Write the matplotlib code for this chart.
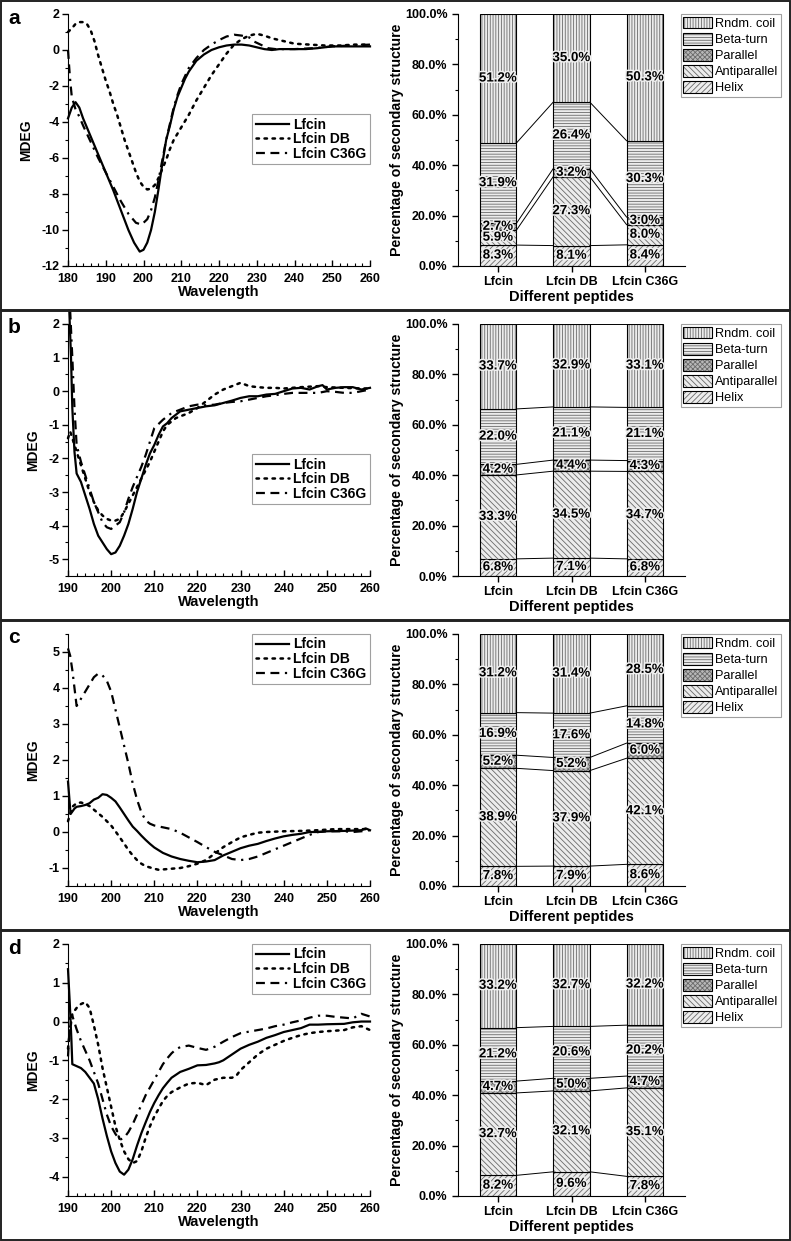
"""
CD spectra of Lfcin, Lfcin DB and Lfcin C36G (left) with the fitted
secondary-structure fractions (right), four conditions a-d.
"""

import matplotlib

matplotlib.use("Agg")
import matplotlib.patheffects as pe
import matplotlib.pyplot as plt
from matplotlib.legend_handler import HandlerTuple
from matplotlib.lines import Line2D
from matplotlib.patches import Patch, Rectangle
from matplotlib.ticker import FuncFormatter, MultipleLocator

# ---------------------------------------------------------------- data
PEPTIDES = ["Lfcin", "Lfcin DB", "Lfcin C36G"]
STRUCTURES = ["Helix", "Antiparallel", "Parallel", "Beta-turn", "Rndm. coil"]

# panel a
A_LFCIN_WL = [180, 181, 182, 183, 184, 186, 188, 190, 192, 194, 196, 197.5, 199, 200, 201, 202, 203, 204, 205,
              206, 207, 208, 209, 210, 211, 212, 214, 216, 218, 220, 222, 224, 226, 228, 230, 232, 234, 236,
              240, 243, 246, 250, 255, 260]
A_LFCIN_MDEG = [-3.8, -3.2, -2.9, -3.2, -3.8, -4.8, -5.8, -6.8, -7.8, -8.9, -10.0, -10.7, -11.2, -11.1, -10.7,
                -10.0, -9.0, -7.7, -6.3, -5.0, -4.2, -3.3, -2.6, -2.1, -1.6, -1.2, -0.6, -0.25, 0.0, 0.15, 0.25,
                0.3, 0.3, 0.25, 0.15, 0.05, 0.0, 0.05, 0.05, 0.05, 0.1, 0.2, 0.2, 0.2]
A_DB_WL = [180, 181, 182, 183, 184, 185, 186, 187, 188, 189, 190, 191, 192, 193, 194, 195, 196, 197, 198, 199,
           200, 201, 202, 203, 204, 205, 206, 207, 208, 210, 212, 214, 216, 218, 220, 222, 224, 226, 228, 230,
           232, 234, 236, 238, 240, 244, 248, 252, 256, 260]
A_DB_MDEG = [1.0, 1.2, 1.45, 1.55, 1.55, 1.45, 1.1, 0.5, -0.3, -1.0, -1.7, -2.3, -3.0, -3.6, -4.3, -5.0, -5.6,
             -6.2, -6.8, -7.3, -7.6, -7.75, -7.7, -7.5, -7.1, -6.6, -6.1, -5.5, -5.0, -4.3, -3.6, -2.8, -2.1,
             -1.4, -0.8, -0.2, 0.3, 0.6, 0.8, 0.9, 0.8, 0.65, 0.55, 0.45, 0.35, 0.3, 0.25, 0.25, 0.3, 0.3]
A_C36G_WL = [180, 180.5, 181, 182, 183, 184, 186, 188, 190, 192, 194, 196, 198, 199.5, 201, 202, 203, 204, 205,
             206, 207, 208, 209, 210, 212, 214, 216, 218, 220, 222, 224, 226, 228, 229, 231, 233, 235, 240, 245,
             250, 255, 260]
A_C36G_MDEG = [0.0, -1.5, -2.6, -3.3, -3.7, -4.2, -5.1, -6.0, -6.8, -7.6, -8.4, -9.1, -9.6, -9.7, -9.4, -8.9,
               -8.2, -7.2, -6.1, -5.0, -4.1, -3.2, -2.5, -1.9, -1.0, -0.45, 0.0, 0.3, 0.55, 0.75, 0.85, 0.8, 0.7,
               0.5, 0.3, 0.1, 0.05, 0.05, 0.1, 0.2, 0.25, 0.3]

# panel b
B_LFCIN_WL = [190.3, 190.7, 191, 191.5, 192, 193, 194, 195, 196, 197, 198, 199, 200, 201, 202, 203, 204, 205,
              206, 207, 208, 209, 210, 211, 212, 213, 214, 215, 216, 218, 220, 222, 224, 226, 228, 230, 232,
              234, 236, 238, 240, 242, 244, 246, 248, 249, 250, 252, 254, 256, 258, 260]
B_LFCIN_MDEG = [2.4, 1.0, -0.5, -1.8, -2.45, -2.7, -3.1, -3.5, -3.95, -4.3, -4.5, -4.7, -4.85, -4.8, -4.6,
                -4.3, -3.95, -3.5, -3.0, -2.6, -2.2, -1.85, -1.6, -1.3, -1.05, -0.95, -0.8, -0.7, -0.6, -0.55,
                -0.5, -0.45, -0.42, -0.35, -0.28, -0.2, -0.15, -0.15, -0.1, -0.08, 0.0, 0.08, 0.1, 0.05, 0.15,
                0.18, 0.05, 0.1, 0.12, 0.12, 0.05, 0.1]
B_DB_WL = [190, 190.5, 191, 192, 193, 194, 195, 196, 197, 198, 199, 200, 201, 202, 203, 204, 205, 206, 207,
           208, 209, 210, 211, 212, 213, 214, 215, 216, 218, 220, 222, 224, 226, 228, 230, 232, 234, 236, 238,
           240, 244, 248, 250, 254, 258, 260]
B_DB_MDEG = [-1.4, -1.2, -1.4, -1.8, -2.2, -2.6, -3.0, -3.3, -3.55, -3.7, -3.8, -3.85, -3.85, -3.8, -3.6,
             -3.35, -3.1, -2.85, -2.6, -2.35, -2.1, -1.8, -1.5, -1.2, -1.0, -0.9, -0.8, -0.75, -0.65, -0.5,
             -0.3, -0.1, 0.05, 0.15, 0.25, 0.15, 0.12, 0.1, 0.1, 0.08, 0.12, 0.15, 0.12, 0.1, 0.08, 0.08]
B_C36G_WL = [190.5, 191, 191.5, 192, 193, 194, 195, 196, 197, 198, 199, 200, 201, 202, 203, 204, 205, 206,
             207, 208, 209, 210, 212, 214, 216, 218, 220, 222, 224, 226, 228, 230, 232, 234, 236, 238, 240, 242,
             244, 246, 248, 250, 252, 254, 256, 258, 260]
B_C36G_MDEG = [2.4, 1.0, -0.5, -1.6, -2.1, -2.5, -2.9, -3.3, -3.6, -3.9, -4.05, -4.1, -4.0, -3.9, -3.6, -3.2,
               -2.85, -2.55, -2.25, -1.9, -1.5, -1.1, -0.85, -0.65, -0.55, -0.45, -0.4, -0.42, -0.4, -0.35,
               -0.32, -0.3, -0.25, -0.2, -0.15, -0.12, -0.08, -0.05, -0.05, -0.05, -0.05, 0.0, -0.02, -0.05,
               -0.05, 0.0, 0.05]

# panel c
C_LFCIN_WL = [190, 190.6, 191.5, 192, 193, 194, 195, 196, 197, 198, 199, 200, 201, 202, 203, 204, 205, 206,
              207, 208, 209, 210, 212, 214, 216, 218, 220, 222, 224, 226, 228, 230, 232, 234, 236, 238, 240,
              242, 244, 246, 248, 250, 254, 258, 259, 260]
C_LFCIN_MDEG = [1.4, 0.5, 0.65, 0.7, 0.72, 0.75, 0.8, 0.9, 0.95, 1.05, 1.03, 0.95, 0.85, 0.68, 0.5, 0.32, 0.15,
                0.03, -0.1, -0.22, -0.33, -0.43, -0.58, -0.68, -0.75, -0.8, -0.84, -0.82, -0.78, -0.65, -0.55,
                -0.45, -0.38, -0.33, -0.25, -0.18, -0.12, -0.08, -0.05, 0.0, 0.0, 0.02, 0.03, 0.05, 0.1, 0.05]
C_DB_WL = [190, 191, 192, 193, 194, 195, 196, 197, 198, 199, 200, 201, 202, 203, 204, 205, 206, 207, 208, 210,
           211, 212, 214, 216, 218, 220, 222, 224, 226, 228, 230, 232, 234, 236, 240, 244, 248, 252, 256, 260]
C_DB_MDEG = [0.3, 0.7, 0.8, 0.82, 0.78, 0.72, 0.62, 0.52, 0.42, 0.3, 0.18, 0.02, -0.15, -0.32, -0.5, -0.65,
             -0.78, -0.88, -0.95, -1.02, -1.05, -1.04, -1.02, -1.0, -0.95, -0.88, -0.78, -0.6, -0.42, -0.28,
             -0.15, -0.08, -0.02, 0.0, 0.02, 0.03, 0.05, 0.08, 0.08, 0.08]
C_C36G_WL = [190, 190.5, 191, 191.5, 192, 193, 194, 195, 196, 197, 198, 199, 200, 201, 202, 203, 204, 205, 206,
             207, 208, 209, 210, 212, 214, 216, 218, 220, 222, 224, 226, 228, 230, 232, 234, 236, 238, 240, 242,
             244, 246, 248, 250, 254, 256, 258, 260]
C_C36G_MDEG = [5.1, 4.9, 4.5, 4.0, 3.5, 3.7, 3.9, 4.1, 4.3, 4.4, 4.35, 4.2, 3.9, 3.4, 2.9, 2.4, 1.9, 1.35, 0.9,
               0.55, 0.32, 0.23, 0.18, 0.13, 0.08, -0.02, -0.15, -0.28, -0.42, -0.55, -0.65, -0.75, -0.78,
               -0.75, -0.68, -0.58, -0.48, -0.38, -0.28, -0.18, -0.08, 0.0, 0.02, 0.02, 0.0, 0.02, 0.05]

# panel d
D_LFCIN_WL = [190, 190.4, 190.8, 191, 192, 193, 194, 195, 196, 197, 198, 199, 200, 201, 202, 203, 204, 205,
              206, 207, 208, 209, 210, 211, 212, 213, 214, 216, 218, 220, 222, 224, 225, 226, 228, 230, 232,
              234, 236, 238, 240, 242, 244, 246, 248, 250, 254, 256, 258, 260]
D_LFCIN_MDEG = [1.35, 0.5, -0.5, -1.1, -1.15, -1.2, -1.3, -1.45, -1.6, -2.0, -2.5, -2.95, -3.35, -3.65, -3.87,
                -3.95, -3.82, -3.55, -3.2, -2.88, -2.6, -2.33, -2.1, -1.9, -1.72, -1.58, -1.45, -1.3, -1.22,
                -1.13, -1.12, -1.08, -1.05, -1.0, -0.85, -0.7, -0.6, -0.52, -0.42, -0.35, -0.27, -0.22, -0.17,
                -0.08, -0.08, -0.07, -0.06, -0.02, 0.0, 0.0]
D_DB_WL = [190, 190.5, 191, 192, 193, 194, 195, 196, 197, 198, 199, 200, 201, 202, 203, 204, 205, 206, 207,
           208, 209, 210, 211, 212, 213, 214, 216, 218, 220, 222, 224, 226, 228, 229, 230, 232, 234, 236, 238,
           240, 242, 244, 246, 248, 250, 254, 256, 258, 260]
D_DB_MDEG = [-0.7, -0.2, 0.2, 0.35, 0.45, 0.5, 0.35, -0.1, -0.6, -1.2, -1.7, -2.2, -2.7, -3.05, -3.35, -3.55,
             -3.65, -3.6, -3.35, -3.0, -2.7, -2.45, -2.25, -2.05, -1.92, -1.82, -1.7, -1.6, -1.58, -1.64, -1.5,
             -1.45, -1.45, -1.4, -1.25, -1.05, -0.85, -0.7, -0.6, -0.5, -0.42, -0.35, -0.3, -0.27, -0.25,
             -0.22, -0.15, -0.12, -0.22]
D_C36G_WL = [190, 190.5, 191, 192, 193, 194, 195, 196, 197, 198, 199, 200, 201, 202, 203, 204, 205, 206, 207,
             208, 209, 210, 211, 212, 213, 214, 215, 216, 218, 220, 222, 224, 226, 228, 230, 232, 234, 236, 238,
             240, 242, 244, 246, 248, 250, 252, 254, 256, 258, 260]
D_C36G_MDEG = [-0.9, 0.1, 0.15, -0.2, -0.5, -0.75, -1.0, -1.3, -1.6, -2.0, -2.4, -2.7, -2.9, -3.05, -3.0,
               -2.85, -2.65, -2.4, -2.15, -1.9, -1.7, -1.5, -1.3, -1.1, -0.95, -0.82, -0.72, -0.66, -0.62,
               -0.68, -0.73, -0.65, -0.52, -0.4, -0.3, -0.26, -0.22, -0.18, -0.12, -0.08, -0.02, 0.03, 0.1,
               0.15, 0.15, 0.12, 0.1, 0.08, 0.2, 0.13]

# secondary structure (%), rows follow STRUCTURES, columns follow PEPTIDES
A_SECONDARY = [[8.3, 8.1, 8.4], [5.9, 27.3, 8.0], [2.7, 3.2, 3.0], [31.9, 26.4, 30.3], [51.2, 35.0, 50.3]]
B_SECONDARY = [[6.8, 7.1, 6.8], [33.3, 34.5, 34.7], [4.2, 4.4, 4.3], [22.0, 21.1, 21.1], [33.7, 32.9, 33.1]]
C_SECONDARY = [[7.8, 7.9, 8.6], [38.9, 37.9, 42.1], [5.2, 5.2, 6.0], [16.9, 17.6, 14.8], [31.2, 31.4, 28.5]]
D_SECONDARY = [[8.2, 9.6, 7.8], [32.7, 32.1, 35.1], [4.7, 5.0, 4.7], [21.2, 20.6, 20.2], [33.2, 32.7, 32.2]]

# ---------------------------------------------------------------- style
W, H = 791, 1241
FONT = "Liberation Sans"
HATCHES = ["//////", "\\\\\\\\\\\\", "xxxxxxx", "------", "||||||"]
FACES = ["#ececec", "#ececec", "#b8b8b8", "#ececec", "#ececec"]
HATCH_GRAY = "#6a6a6a"
STYLES = [
    dict(linestyle="-", linewidth=1.6),
    dict(linestyle=(0, (1.0, 2.2)), linewidth=1.8, dash_capstyle="round"),
    dict(linestyle=(0, (4.0, 2.5, 4.0, 2.5, 1.0, 2.5)), linewidth=1.6),
]

plt.rcParams["font.family"] = FONT
plt.rcParams["axes.unicode_minus"] = False
plt.rcParams["hatch.linewidth"] = 0.6


def px_axes(fig, left, top, right, bottom):
    return fig.add_axes([left / W, 1 - bottom / H, (right - left) / W, (bottom - top) / H])


def bold_ticks(ax, size):
    for lab in ax.get_xticklabels() + ax.get_yticklabels():
        lab.set_fontweight("bold")
        lab.set_fontsize(size)


def draw_cd(ax, curves, xlim, ylim, ymajor, legend_loc, legend_anchor):
    handles = []
    for (wl, mdeg), name, st in zip(curves, PEPTIDES, STYLES):
        ax.plot(wl, mdeg, color="black", clip_on=False, **st)
        handles.append(Line2D([], [], color="black", **st))
    ax.set_xlim(*xlim)
    ax.set_ylim(*ylim)
    ax.xaxis.set_major_locator(MultipleLocator(10))
    ax.xaxis.set_minor_locator(MultipleLocator(2))
    ax.yaxis.set_major_locator(MultipleLocator(ymajor))
    ax.yaxis.set_minor_locator(MultipleLocator(ymajor / 2))
    ax.spines["top"].set_visible(False)
    ax.spines["right"].set_visible(False)
    ax.tick_params(axis="x", which="major", direction="in", length=4, width=1, pad=5)
    ax.tick_params(axis="x", which="minor", direction="in", length=2, width=0.8)
    ax.tick_params(axis="y", which="major", direction="out", length=4, width=1, pad=2)
    ax.tick_params(axis="y", which="minor", direction="out", length=2, width=0.8)
    bold_ticks(ax, 9)
    ax.set_xlabel("Wavelength", fontsize=10.5, fontweight="bold", labelpad=0)
    ax.set_ylabel("MDEG", fontsize=10, fontweight="bold", labelpad=6)
    leg = ax.legend(handles, PEPTIDES, loc=legend_loc, bbox_to_anchor=legend_anchor, borderaxespad=0,
                    frameon=True, fancybox=False, handlelength=2.4, handletextpad=0.3, labelspacing=0.05,
                    borderpad=0.25, prop={"family": FONT, "weight": "bold", "size": 10})
    leg.get_frame().set_edgecolor("#888888")
    leg.get_frame().set_linewidth(0.8)


def draw_bars(ax, secondary):
    xs = list(range(len(PEPTIDES)))
    width = 0.5
    bottoms = [0.0] * len(xs)
    tops_per_level = []
    halo = [pe.withStroke(linewidth=2.2, foreground="#f0f0f0")]
    for vals, hatch, face in zip(secondary, HATCHES, FACES):
        ax.bar(xs, vals, width, bottom=bottoms, color=face, edgecolor=HATCH_GRAY, hatch=hatch, linewidth=0)
        ax.bar(xs, vals, width, bottom=bottoms, fill=False, edgecolor="black", linewidth=0.8)
        for x, b, v in zip(xs, bottoms, vals):
            ax.text(x, b + v / 2, f"{v:.1f}%", ha="center", va="center", fontsize=9.6, fontweight="bold",
                    path_effects=halo, zorder=5)
        bottoms = [b + v for b, v in zip(bottoms, vals)]
        tops_per_level.append(list(bottoms))
    # Origin-style connecting lines between neighbouring bars
    for tops in tops_per_level:
        for i in range(len(xs) - 1):
            ax.plot([xs[i] + width / 2, xs[i + 1] - width / 2], [tops[i], tops[i + 1]], color="black",
                    linewidth=0.7)
    ax.set_xlim(-0.545, 2.545)
    ax.set_ylim(0, 100)
    ax.set_xticks(xs)
    ax.set_xticklabels(PEPTIDES)
    ax.yaxis.set_major_locator(MultipleLocator(20))
    ax.yaxis.set_minor_locator(MultipleLocator(10))
    ax.yaxis.set_major_formatter(FuncFormatter(lambda v, p: f"{v:.1f}%"))
    ax.spines["top"].set_visible(False)
    ax.spines["right"].set_visible(False)
    ax.tick_params(axis="both", which="major", direction="out", length=4, width=1)
    ax.tick_params(axis="y", which="minor", direction="out", length=2, width=0.8)
    bold_ticks(ax, 9)
    ax.set_xlabel("Different peptides", fontsize=10.5, fontweight="bold", labelpad=1)
    ax.set_ylabel("Percentage of secondary structure", fontsize=10.2, fontweight="bold", labelpad=1)

    handles = []
    for hatch, face in zip(HATCHES[::-1], FACES[::-1]):
        handles.append((Patch(facecolor=face, edgecolor=HATCH_GRAY, hatch=hatch, linewidth=0),
                        Patch(fill=False, edgecolor="black", linewidth=0.8)))
    leg = ax.legend(handles, STRUCTURES[::-1], handler_map={tuple: HandlerTuple(ndivide=1, pad=0)},
                    loc="upper left", bbox_to_anchor=(0.982, 1.0), borderaxespad=0, frameon=True,
                    fancybox=False, handlelength=2.2, handleheight=1.05, handletextpad=0.3, labelspacing=0.22,
                    borderpad=0.2, prop={"family": FONT, "size": 9.2})
    leg.get_frame().set_edgecolor("#888888")
    leg.get_frame().set_linewidth(0.8)


def main() -> None:
    fig = plt.figure(figsize=(W / 100, H / 100), dpi=100)

    panels = [
        ("a", 0, [(A_LFCIN_WL, A_LFCIN_MDEG), (A_DB_WL, A_DB_MDEG), (A_C36G_WL, A_C36G_MDEG)],
         (180, 260), (-12, 2), 2, "upper right", (1.0, 0.603), A_SECONDARY),
        ("b", 310, [(B_LFCIN_WL, B_LFCIN_MDEG), (B_DB_WL, B_DB_MDEG), (B_C36G_WL, B_C36G_MDEG)],
         (190, 260), (-5.5, 2), 1, "upper right", (1.0, 0.484), B_SECONDARY),
        ("c", 620, [(C_LFCIN_WL, C_LFCIN_MDEG), (C_DB_WL, C_DB_MDEG), (C_C36G_WL, C_C36G_MDEG)],
         (190, 260), (-1.5, 5.5), 1, "upper right", (1.0, 1.0), C_SECONDARY),
        ("d", 930, [(D_LFCIN_WL, D_LFCIN_MDEG), (D_DB_WL, D_DB_MDEG), (D_C36G_WL, D_C36G_MDEG)],
         (190, 260), (-4.5, 2), 1, "upper right", (1.0, 1.0), D_SECONDARY),
    ]

    for letter, py, curves, xlim, ylim, ymajor, loc, anchor, secondary in panels:
        ax_cd = px_axes(fig, 68, py + 14, 370, py + 266)
        draw_cd(ax_cd, curves, xlim, ylim, ymajor, loc, anchor)
        ax_bar = px_axes(fig, 458, py + 14, 685, py + 266)
        draw_bars(ax_bar, secondary)
        fig.text(8 / W, 1 - (py + 18) / H, letter, fontsize=15, fontweight="bold", ha="left", va="center")
        fig.patches.append(Rectangle((1 / W, 1 - (py + 310) / H), 789 / W, 309 / H, transform=fig.transFigure,
                                     fill=False, edgecolor="#222222", linewidth=1.4))

    fig.savefig("out.png", dpi=100)
    plt.close(fig)


if __name__ == "__main__":
    main()
